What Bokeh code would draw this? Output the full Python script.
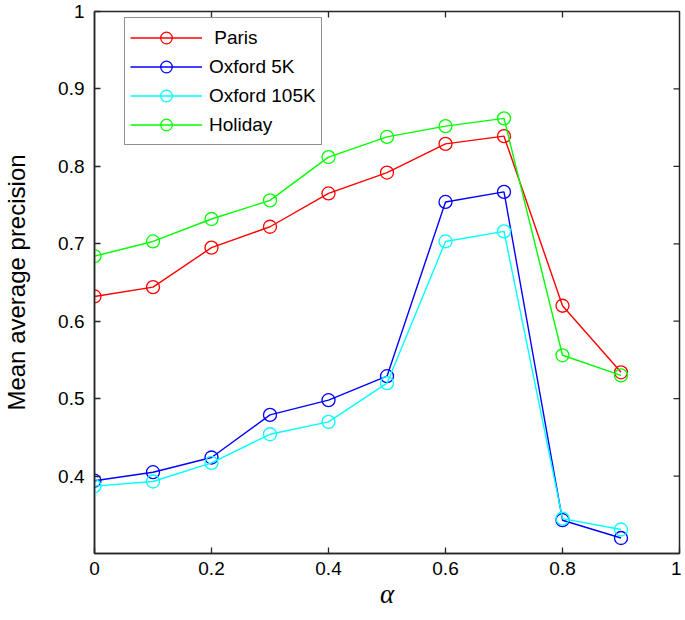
import math
from bokeh.plotting import figure
from bokeh.models import (FixedTicker, CustomJSTickFormatter, Legend,
                          LegendItem, Range1d)
from bokeh.embed import file_html
from bokeh.resources import INLINE

alpha = [0.0, 0.1, 0.2, 0.3, 0.4, 0.5, 0.6, 0.7, 0.8, 0.9]
paris = [0.632, 0.644, 0.695, 0.722, 0.765, 0.792, 0.829, 0.839, 0.620, 0.534]
oxford5k = [0.394, 0.405, 0.424, 0.479, 0.498, 0.529, 0.754, 0.767, 0.343, 0.320]
oxford105k = [0.387, 0.393, 0.417, 0.454, 0.470, 0.520, 0.703, 0.716, 0.345, 0.331]
holiday = [0.684, 0.703, 0.732, 0.756, 0.812, 0.838, 0.852, 0.862, 0.556, 0.530]

series_names = [" Paris", "Oxford 5K", "Oxford 105K", "Holiday"]
series_values = [paris, oxford5k, oxford105k, holiday]
series_colors = ["#ff0000", "#0000ff", "#00ffff", "#00ff00"]

x_ticks = [0, 0.2, 0.4, 0.6, 0.8, 1.0]
y_ticks = [0.4, 0.5, 0.6, 0.7, 0.8, 0.9, 1.0]
x_label = "α"
y_label = "Mean average precision"

FONT = "Liberation Sans"
AX_COLOR = "#262626"

FRAME_W = 585
FRAME_H = 542
p = figure(frame_width=FRAME_W, frame_height=FRAME_H, output_backend="svg",
           toolbar_location=None, x_range=Range1d(0, 1), y_range=Range1d(0.3, 1.0),
           min_border_left=90, min_border_right=2, min_border_top=11,
           min_border_bottom=59)
p.xgrid.visible = False
p.ygrid.visible = False
p.outline_line_color = AX_COLOR
p.outline_line_width = 1.5
p.background_fill_color = "white"
p.border_fill_color = "white"

fmt = CustomJSTickFormatter(code="return (Math.round(tick*10)/10).toString();")

for ax, ticks in ((p.xaxis[0], x_ticks), (p.yaxis[0], y_ticks)):
    ax.ticker = FixedTicker(ticks=ticks)
    ax.formatter = fmt
    ax.minor_tick_line_color = None
    ax.major_tick_in = 6
    ax.major_tick_out = 0
    ax.major_tick_line_color = AX_COLOR
    ax.major_tick_line_width = 1.3
    ax.axis_line_color = AX_COLOR
    ax.axis_line_width = 1.5
    ax.major_label_text_font = FONT
    ax.major_label_text_font_size = "19px"
    ax.major_label_text_color = "black"

xa = p.xaxis[0]
ya = p.yaxis[0]
xa.major_label_standoff = 8
ya.major_label_standoff = 10

xa.axis_label = x_label
xa.axis_label_text_font = "Liberation Serif"
xa.axis_label_text_font_style = "italic"
xa.axis_label_text_font_size = "27px"
xa.axis_label_text_color = "black"
xa.axis_label_standoff = 1

ya.axis_label = y_label
ya.axis_label_text_font = FONT
ya.axis_label_text_font_style = "normal"
ya.axis_label_text_font_size = "24px"
ya.axis_label_text_color = "black"
ya.axis_label_standoff = 25

# inward ticks on the top and right edges of the box (MATLAB style)
p.ray(x=x_ticks[1:-1], y=[p.y_range.end] * len(x_ticks[1:-1]), length=6,
      length_units="screen", angle=-math.pi / 2, line_color=AX_COLOR, line_width=1.3)
p.ray(x=[p.x_range.end] * len(y_ticks[:-1]), y=y_ticks[:-1], length=6,
      length_units="screen", angle=math.pi, line_color=AX_COLOR, line_width=1.3)

items = []
for name, vals, col in zip(series_names, series_values, series_colors):
    ln = p.line(alpha, vals, line_color=col, line_width=1.4)
    sc = p.scatter(alpha, vals, marker="circle", size=13, fill_color=None,
                   line_color=col, line_width=1.3)
    items.append(LegendItem(label=name, renderers=[ln, sc]))

LEG_H = 126
legend = Legend(items=items, location=(30, FRAME_H - 8 - LEG_H))
legend.label_text_font = FONT
legend.label_text_font_size = "19px"
legend.label_text_color = "black"
legend.glyph_width = 72
legend.glyph_height = 29
legend.label_height = 29
legend.label_standoff = 7
legend.spacing = 0
legend.padding = 5
legend.margin = 0
legend.border_line_color = "#222222"
legend.border_line_width = 1.5
legend.background_fill_color = "white"
legend.background_fill_alpha = 1.0
p.add_layout(legend, "center")

open("out.html", "w").write(file_html(p, INLINE))
